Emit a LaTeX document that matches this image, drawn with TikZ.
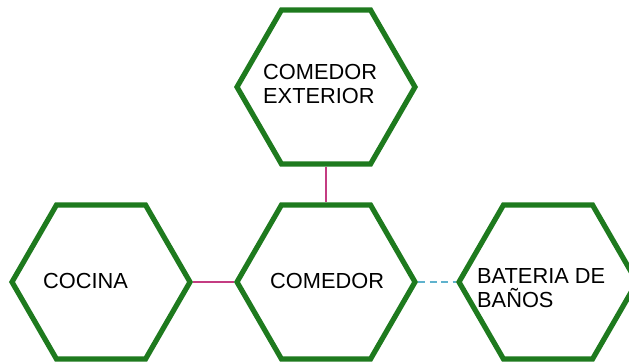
\documentclass[tikz,border=0pt]{standalone}
\usepackage{fontspec}
\setmainfont{Liberation Sans}
\usetikzlibrary{shapes.geometric}
\definecolor{hexgreen}{RGB}{30,122,30}
\definecolor{linkpink}{RGB}{196,60,130}
\definecolor{linkcyan}{RGB}{95,178,205}
\begin{document}
\begin{tikzpicture}[x=1pt,y=-1pt,
  hexbox/.style={regular polygon, regular polygon sides=6, minimum size=178pt,
    inner sep=0pt, draw=hexgreen, line width=5.2pt, fill=white},
  label/.style={font=\fontsize{21.8}{23.8}\selectfont, anchor=base west, inner sep=0pt, align=left},
  solidlink/.style={draw=linkpink, line width=1.4pt},
  dashlink/.style={draw=linkcyan, line width=1.4pt, dash pattern=on 7pt off 4.5pt}]
\useasboundingbox (0,0) rectangle (629,362);
\clip (0,0) rectangle (629,362);
\node[hexbox] (ext) at (326,87) {};
\node[hexbox] (coc) at (101,282) {};
\node[hexbox] (com) at (326,282) {};
\node[hexbox] (bat) at (548,282) {};
\draw[solidlink] (ext.south) -- (com.north);
\draw[solidlink] (coc.east) -- (com.west);
\draw[dashlink] (com.east) -- (bat.west);
\node[label] (textext) at (263,103.5) {COMEDOR\\EXTERIOR};
\node[label] (textcoc) at (43,288) {COCINA};
\node[label] (textcom) at (270,288) {COMEDOR};
\node[label] (textbat) at (477,307) {BATERIA DE\\BAÑOS};
\end{tikzpicture}
\end{document}
